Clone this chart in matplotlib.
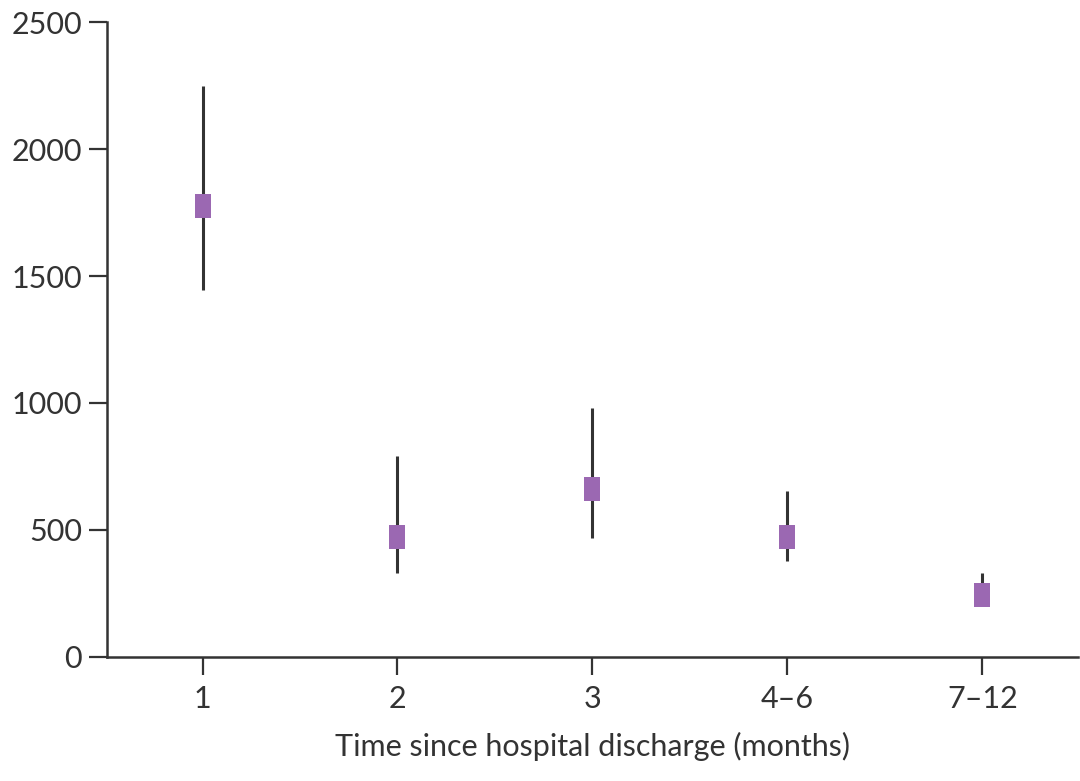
import matplotlib.pyplot as plt

# time since discharge (months) and estimates with 95% CI
categories = ['1', '2', '3', '4\u20136', '7\u201312']
estimates = [1776, 472, 661, 472, 244]
lower = [1445, 331, 468, 378, 200]
upper = [2250, 791, 980, 654, 330]

plt.rcParams['font.family'] = ['Lato', 'DejaVu Sans']

fig = plt.figure(figsize=(10.8, 7.81), dpi=100)
ax = fig.add_axes([0.0991, 0.1588, 0.8989, 0.813])

x = list(range(len(categories)))
err_lo = [e - l for e, l in zip(estimates, lower)]
err_hi = [u - e for u, e in zip(upper, estimates)]

ax.errorbar(x, estimates, yerr=[err_lo, err_hi], fmt='none',
            ecolor='#333333', elinewidth=2.2, capsize=0, zorder=2)
rect = [(-2, -3), (2, -3), (2, 3), (-2, 3), (-2, -3)]
ax.plot(x, estimates, linestyle='none', marker=rect, markersize=17.3,
        color='#9b68b2', markeredgewidth=0, zorder=3)

ax.set_xlim(-0.49, 4.49)
ax.set_ylim(0, 2500)
ax.set_yticks([0, 500, 1000, 1500, 2000, 2500])
ax.set_xticks(x)
ax.set_xticklabels(categories)

for s in ['top', 'right']:
    ax.spines[s].set_visible(False)
for s in ['left', 'bottom']:
    ax.spines[s].set_linewidth(1.8)
    ax.spines[s].set_color('#333333')

ax.tick_params(axis='both', length=13, width=1.6, color='#333333',
               labelsize=22, labelcolor='#333333')
ax.tick_params(axis='y', pad=5)
ax.tick_params(axis='x', pad=7)

ax.set_xlabel('Time since hospital discharge (months)', fontsize=22,
              color='#333333', labelpad=14)

fig.savefig('out.png', dpi=100, facecolor='white')
